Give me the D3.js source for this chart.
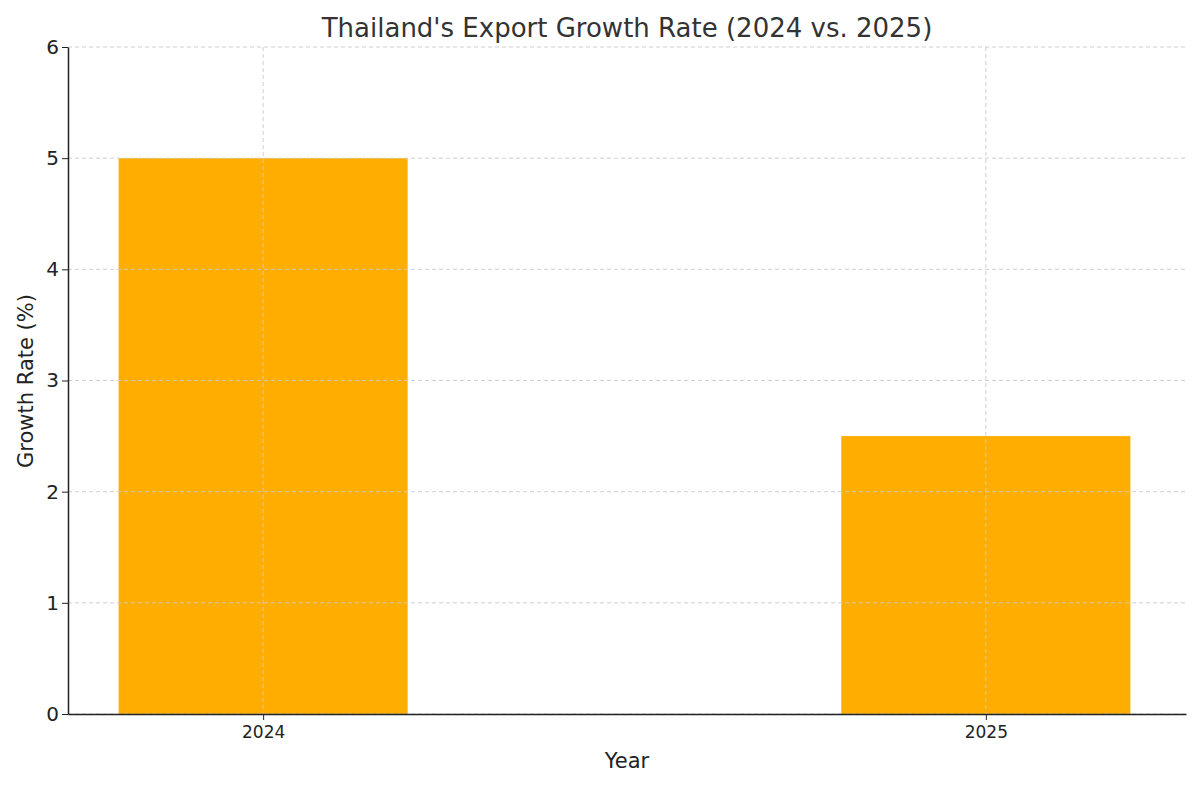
<!DOCTYPE html><html><head><script src="https://cdn.jsdelivr.net/npm/d3@7"></script>
<style>body{margin:0;background:#fff}text{font-family:"DejaVu Sans",sans-serif}</style></head><body>
<svg id="c" width="1200" height="787"></svg>
<script>
const categories=["2024","2025"];
const values=[5.0,2.5];
const yTicks=[0,1,2,3,4,5,6];
const svg=d3.select("#c");
const L=68,R=1186,T=47,B=714;
const x=d3.scaleLinear().domain([-0.27,1.277]).range([L,R]);
const y=d3.scaleLinear().domain([0,6]).range([B,T]);
const bw=x(0.4)-x(0);
svg.selectAll("rect.b").data(values).enter().append("rect")
 .attr("x",(d,i)=>x(i)-bw/2).attr("width",bw).attr("y",d=>y(d)).attr("height",d=>B-y(d)).attr("fill","#ffae00");
const g=svg.append("g");
yTicks.forEach(t=>g.append("line").attr("x1",L).attr("x2",R).attr("y1",y(t)).attr("y2",y(t)));
categories.forEach((c,i)=>g.append("line").attr("x1",x(i)).attr("x2",x(i)).attr("y1",T).attr("y2",B));
g.selectAll("line").attr("stroke","#cccccc").attr("stroke-dasharray","4,3").attr("stroke-width",1).attr("opacity",0.9);
const ya=svg.append("g").attr("transform",`translate(${L},0)`).call(d3.axisLeft(y).tickValues(yTicks).tickFormat(d3.format("d")).tickSizeOuter(0));
ya.selectAll("text").attr("font-size",20).attr("fill","#222").attr("font-family","DejaVu Sans");
const xa=svg.append("g").attr("transform",`translate(0,${B})`).call(d3.axisBottom(x).tickValues([0,1]).tickFormat(i=>categories[i]).tickSizeOuter(0));
xa.selectAll("text").attr("font-size",17).attr("fill","#222").attr("font-family","DejaVu Sans").attr("dy","0.9em");
[ya,xa].forEach(a=>{a.select(".domain").attr("stroke","#222").attr("stroke-width",1.5);a.selectAll(".tick line").attr("stroke","#222");});
svg.append("text").attr("x",627).attr("y",37).attr("text-anchor","middle").attr("font-size",26).attr("fill","#333").text("Thailand's Export Growth Rate (2024 vs. 2025)");
svg.append("text").attr("x",627).attr("y",768).attr("text-anchor","middle").attr("font-size",21).attr("fill","#222").text("Year");
svg.append("text").attr("transform","translate(33,381) rotate(-90)").attr("text-anchor","middle").attr("font-size",21).attr("fill","#222").text("Growth Rate (%)");
</script></body></html>
